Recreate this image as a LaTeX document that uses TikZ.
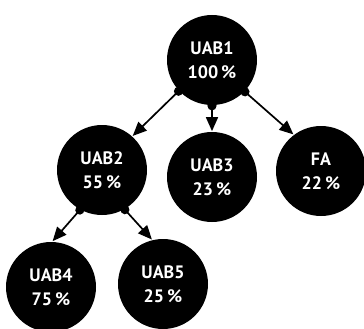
\documentclass[tikz,border=0pt]{standalone}
\usepackage{fontspec}
\setmainfont{PT Sans}
\usetikzlibrary{arrows.meta}

\begin{document}
\begin{tikzpicture}[x=1pt,y=-1pt,
                    {Circle[length=9pt]}-{Triangle[length=14pt,width=12pt]},
                    shorten <=-4.5pt,line width=1.7pt,
                    unit/.style={circle,fill=black,text=white,minimum size=90pt,
                                 inner sep=0pt,align=center,
                                 font=\fontsize{18}{24}\selectfont\bfseries}]
  \useasboundingbox (0,0) rectangle (364,329);

  \node[unit] (U1) at (212,60)  {UAB1\\100\,\%};
  \node[unit] (U2) at (102,170) {UAB2\\55\,\%};
  \node[unit] (U3) at (212,177) {UAB3\\23\,\%};
  \node[unit] (FA) at (321,171) {FA\\22\,\%};
  \node[unit] (U4) at (51,287)  {UAB4\\75\,\%};
  \node[unit] (U5) at (163,284) {UAB5\\25\,\%};

  \path (U1.223) edge (U2.48)
        (U1.270) edge (U3.90)
        (U1.316) edge (FA.127)
        (U2.241) edge (U4.88)
        (U2.300) edge (U5.104);
\end{tikzpicture}
\end{document}
